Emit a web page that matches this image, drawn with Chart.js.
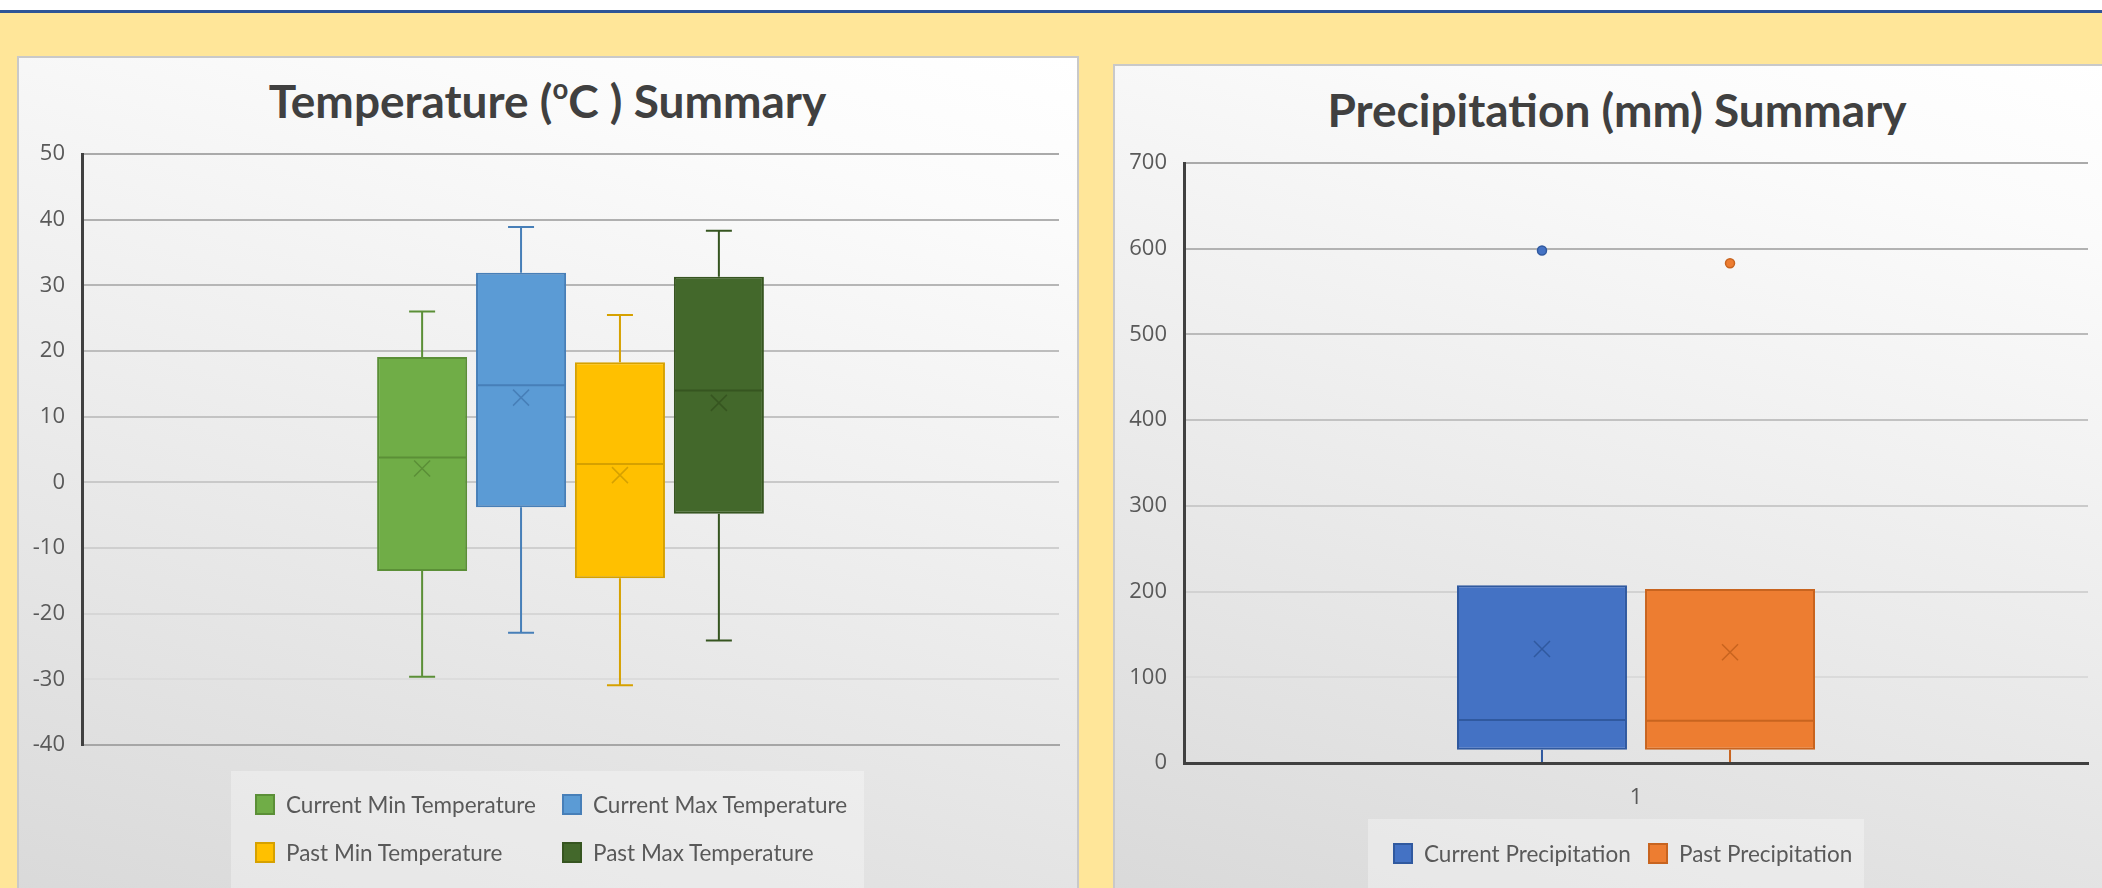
<!DOCTYPE html>
<html>
<head>
<meta charset="utf-8">
<title>Temperature and Precipitation Summary</title>
<script src="https://cdn.jsdelivr.net/npm/chart.js@4.4.1/dist/chart.umd.min.js"></script>
<style>
  html, body { margin: 0; padding: 0; width: 2102px; height: 888px; overflow: hidden; background: #FFE699; font-family: Lato, "Open Sans", sans-serif; }
  #topbar { position: absolute; left: 0; top: 0; width: 2102px; height: 10px; background: #ffffff; }
  #rule { position: absolute; left: 0; top: 10px; width: 2102px; height: 3px; background: #2F5597; }
  .panel { position: absolute; box-sizing: border-box; border: 2px solid #c9c9c9;
           background: linear-gradient(195deg, #ffffff 0%, #fbfbfb 16%, #d9d9d9 100%); }
  .title { position: absolute; text-align: center; font-weight: 700; font-size: 46px; line-height: 50px; color: #404040; white-space: nowrap; }
  .title sup { font-size: 0.6em; vertical-align: 0.7em; line-height: 0; }
  .legend { position: absolute; background: rgba(255,255,255,0.32); }
  .item { position: absolute; height: 24px; display: flex; align-items: center; font-size: 22.5px; color: #595959; white-space: nowrap; }
  .swatch { box-sizing: border-box; width: 20px; height: 21px; border: 2px solid; margin-right: 11px; }
  canvas { position: absolute; }
</style>
</head>
<body>
<div id="topbar"></div>
<div id="rule"></div>

<div class="panel" style="left:17px; top:56px; width:1062px; height:850px;"></div>
<div class="panel" style="left:1113px; top:64px; width:1010px; height:842px;"></div>

<div class="title" style="left:17px; top:76px; width:1061px;">Temperature (<sup>o</sup>C ) Summary</div>
<div class="title" style="left:1113px; top:85px; width:1008px;">Precipitation (mm) Summary</div>

<canvas id="tempChart" style="left:17px; top:56px;" width="1061" height="832"></canvas>
<canvas id="precipChart" style="left:1113px; top:64px;" width="989" height="824"></canvas>

<div class="legend" id="tempLegend" style="left:231px; top:771px; width:633px; height:130px;"></div>
<div class="legend" id="precipLegend" style="left:1368px; top:819px; width:496px; height:80px;"></div>

<script>
// ---- Temperature (°C) summary statistics, one box per series ----
const tempCategories = ['1'];
const tempSeries = ['Current Min Temperature', 'Current Max Temperature', 'Past Min Temperature', 'Past Max Temperature'];
const tempMin    = [-29.6, -22.9, -30.9, -24.1];
const tempQ1     = [-13.5,  -3.8, -14.6,  -4.8];
const tempMedian = [  3.8,  14.8,   2.8,  14.0];
const tempMean   = [  2.1,  12.9,   1.1,  12.1];
const tempQ3     = [ 19.1,  31.9,  18.3,  31.3];
const tempMax    = [ 26.0,  38.9,  25.5,  38.3];
const tempTicks  = [-40, -30, -20, -10, 0, 10, 20, 30, 40, 50];

// ---- Precipitation (mm) summary statistics ----
const precipCategories = ['1'];
const precipSeries = ['Current Precipitation', 'Past Precipitation'];
const precipMin      = [0, 0];
const precipQ1       = [15.6, 15.6];
const precipMedian   = [50.2, 49.3];
const precipMean     = [132.9, 129.3];
const precipQ3       = [207.5, 203.1];
const precipMax      = [207.5, 203.1];
const precipOutliers = [[598], [583]];
const precipTicks    = [0, 100, 200, 300, 400, 500, 600, 700];

// ---- Series colours ----
const tempFill   = ['#70AD47', '#5B9BD5', '#FFC000', '#43682B'];
const tempLine   = ['#5B8F37', '#477FB8', '#D6A100', '#365520'];
const precipFill = ['#4472C4', '#ED7D31'];
const precipLine = ['#30599F', '#C8641F'];

// Draws whiskers, median line, mean cross and outlier dots on top of each floating bar (the IQR box)
const boxStatsPlugin = {
  id: 'boxStats',
  afterDatasetsDraw(chart, args, opts) {
    const ctx = chart.ctx;
    const yScale = chart.scales.y;
    chart.data.datasets.forEach((ds, i) => {
      const meta = chart.getDatasetMeta(i);
      if (meta.hidden) return;
      const s = opts.stats[i];
      const color = opts.lines[i];
      meta.data.forEach((bar) => {
        const x = bar.x;
        const half = bar.width / 2;
        const yMin = yScale.getPixelForValue(s.min);
        const yQ1 = yScale.getPixelForValue(s.q1);
        const yMed = yScale.getPixelForValue(s.median);
        const yMean = yScale.getPixelForValue(s.mean);
        const yQ3 = yScale.getPixelForValue(s.q3);
        const yMax = yScale.getPixelForValue(s.max);
        const cap = opts.capHalf;
        ctx.save();
        ctx.strokeStyle = color;
        ctx.lineWidth = 2;
        ctx.beginPath();
        // upper whisker
        if (yMax < yQ3 - 1) {
          ctx.moveTo(x, yQ3); ctx.lineTo(x, yMax);
          ctx.moveTo(x - cap, yMax); ctx.lineTo(x + cap, yMax);
        }
        // lower whisker
        if (yMin > yQ1 + 1) {
          ctx.moveTo(x, yQ1); ctx.lineTo(x, yMin);
          ctx.moveTo(x - cap, yMin); ctx.lineTo(x + cap, yMin);
        }
        // median
        ctx.moveTo(x - half + 1, yMed); ctx.lineTo(x + half - 1, yMed);
        ctx.stroke();
        // mean marker (x)
        const m = opts.meanHalf;
        ctx.lineWidth = 1.5;
        ctx.beginPath();
        ctx.moveTo(x - m, yMean - m); ctx.lineTo(x + m, yMean + m);
        ctx.moveTo(x - m, yMean + m); ctx.lineTo(x + m, yMean - m);
        ctx.stroke();
        // outliers
        (s.outliers || []).forEach(v => {
          const yo = yScale.getPixelForValue(v);
          ctx.beginPath();
          ctx.arc(x, yo, 4.5, 0, Math.PI * 2);
          ctx.fillStyle = opts.fills[i];
          ctx.fill();
          ctx.lineWidth = 1.5;
          ctx.stroke();
        });
        ctx.restore();
      });
    });
  }
};

function gridShade(count) {
  // gridlines fade from light grey at the top to a darker grey at the bottom
  return (c) => {
    const t = 1 - c.index / (count - 1);
    const v = Math.round(0xaa + (0xe2 - 0xaa) * t);
    return `rgb(${v},${v},${v})`;
  };
}

function buildStats(mins, q1s, meds, means, q3s, maxs, outs) {
  return mins.map((_, i) => ({
    min: mins[i], q1: q1s[i], median: meds[i], mean: means[i], q3: q3s[i], max: maxs[i],
    outliers: outs ? outs[i] : []
  }));
}

function buildDatasets(names, q1s, q3s, fills, lines, cp, bp) {
  return names.map((name, i) => ({
    label: name,
    data: [[q1s[i], q3s[i]]],
    backgroundColor: fills[i],
    borderColor: lines[i],
    borderWidth: 2,
    borderSkipped: false,
    categoryPercentage: cp,
    barPercentage: bp
  }));
}

const tickFont = { family: "'Open Sans', sans-serif", size: 22 };

new Chart(document.getElementById('tempChart'), {
  type: 'bar',
  data: {
    labels: tempCategories,
    datasets: buildDatasets(tempSeries, tempQ1, tempQ3, tempFill, tempLine, 0.405, 0.91)
  },
  options: {
    responsive: false,
    animation: false,
    layout: { padding: { top: 98, bottom: 143, left: 0, right: 19 } },
    plugins: {
      legend: { display: false },
      tooltip: { enabled: false },
      boxStats: {
        stats: buildStats(tempMin, tempQ1, tempMedian, tempMean, tempQ3, tempMax, null),
        lines: tempLine, fills: tempFill, capHalf: 13, meanHalf: 8
      }
    },
    scales: {
      x: {
        grid: { display: false },
        ticks: { display: false },
        border: { display: true, color: '#a6a6a6', width: 2 },
        afterFit: (s) => { s.height = 0; }
      },
      y: {
        min: tempTicks[0], max: tempTicks[tempTicks.length - 1],
        afterBuildTicks: (s) => { s.ticks = tempTicks.map(v => ({ value: v })); },
        ticks: { padding: 17, color: '#595959', font: tickFont },
        grid: { drawTicks: false, color: gridShade(tempTicks.length), lineWidth: 2 },
        border: { color: '#404040', width: 3 },
        afterFit: (s) => { s.width = 65; }
      }
    }
  },
  plugins: [boxStatsPlugin]
});

new Chart(document.getElementById('precipChart'), {
  type: 'bar',
  data: {
    labels: precipCategories,
    datasets: buildDatasets(precipSeries, precipQ1, precipQ3, precipFill, precipLine, 0.416, 0.904)
  },
  options: {
    responsive: false,
    animation: false,
    layout: { padding: { top: 99, bottom: 75, left: 0, right: 14 } },
    plugins: {
      legend: { display: false },
      tooltip: { enabled: false },
      boxStats: {
        stats: buildStats(precipMin, precipQ1, precipMedian, precipMean, precipQ3, precipMax, precipOutliers),
        lines: precipLine, fills: precipFill, capHalf: 13, meanHalf: 8
      }
    },
    scales: {
      x: {
        grid: { display: false },
        ticks: { padding: 14, color: '#595959', font: tickFont },
        border: { display: true, color: '#404040', width: 3, z: 1 },
        afterFit: (s) => { s.height = 50; }
      },
      y: {
        min: precipTicks[0], max: precipTicks[precipTicks.length - 1],
        afterBuildTicks: (s) => { s.ticks = precipTicks.map(v => ({ value: v })); },
        ticks: { padding: 17, color: '#595959', font: tickFont },
        grid: { drawTicks: false, color: gridShade(precipTicks.length), lineWidth: 2 },
        border: { color: '#404040', width: 3 },
        afterFit: (s) => { s.width = 71; }
      }
    }
  },
  plugins: [boxStatsPlugin]
});

// ---- HTML legends built from the series arrays ----
function buildLegend(el, names, fills, lines, cols, rows) {
  names.forEach((name, i) => {
    const item = document.createElement('div');
    item.className = 'item';
    item.style.left = cols[i % cols.length] + 'px';
    item.style.top = (rows[Math.floor(i / cols.length)] - 12) + 'px';
    const sw = document.createElement('span');
    sw.className = 'swatch';
    sw.style.background = fills[i];
    sw.style.borderColor = lines[i];
    const tx = document.createElement('span');
    tx.textContent = name;
    item.appendChild(sw);
    item.appendChild(tx);
    el.appendChild(item);
  });
}
buildLegend(document.getElementById('tempLegend'), tempSeries, tempFill, tempLine, [24, 331], [33, 81]);
buildLegend(document.getElementById('precipLegend'), precipSeries, precipFill, precipLine, [25, 280], [34]);
</script>
</body>
</html>
